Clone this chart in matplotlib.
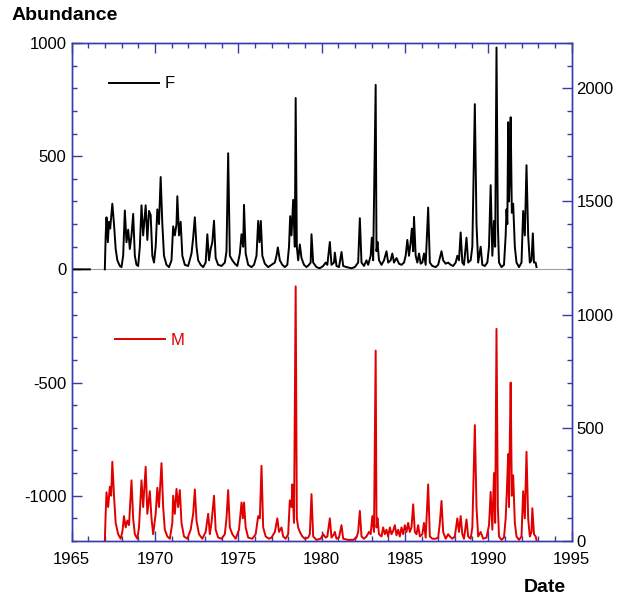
import numpy as np
import matplotlib
matplotlib.use("Agg")
import matplotlib.pyplot as plt
from matplotlib.ticker import MultipleLocator

plt.rcParams['font.family'] = ['Liberation Sans', 'DejaVu Sans']
plt.rcParams['axes.unicode_minus'] = False

# F abundance (left scale)
f_years = [1965.1, 1966.1, np.nan,
           1967.00, 1967.05, 1967.10, 1967.18, 1967.25, 1967.32, 1967.45, 1967.55, 1967.65, 1967.75, 1967.9,
           1968.0, 1968.1, 1968.2, 1968.3, 1968.4, 1968.5, 1968.6, 1968.7, 1968.8, 1968.9,
           1969.0, 1969.1, 1969.2, 1969.3, 1969.45, 1969.55, 1969.65, 1969.75, 1969.85, 1969.95,
           1970.05, 1970.15, 1970.25, 1970.35, 1970.45, 1970.55, 1970.7, 1970.85,
           1971.0, 1971.1, 1971.2, 1971.3, 1971.35, 1971.45, 1971.55, 1971.65, 1971.8,
           1972.0, 1972.2, 1972.3, 1972.4, 1972.5, 1972.6, 1972.75, 1972.9,
           1973.05, 1973.15, 1973.25, 1973.35, 1973.45, 1973.55, 1973.65, 1973.8,
           1974.0, 1974.2, 1974.3, 1974.4, 1974.5, 1974.65, 1974.8, 1974.95,
           1975.1, 1975.2, 1975.3, 1975.35, 1975.45, 1975.6, 1975.8, 1975.95,
           1976.1, 1976.2, 1976.28, 1976.36, 1976.45, 1976.6, 1976.8,
           1977.0, 1977.2, 1977.3, 1977.38, 1977.5, 1977.65, 1977.8, 1977.95,
           1978.05, 1978.12, 1978.2, 1978.3, 1978.4, 1978.45, 1978.52, 1978.6, 1978.7, 1978.8, 1978.95,
           1979.1, 1979.25, 1979.35, 1979.4, 1979.5, 1979.7, 1979.9,
           1980.1, 1980.25, 1980.35, 1980.5, 1980.6, 1980.75, 1980.8, 1980.9,
           1981.05, 1981.2, 1981.3, 1981.5, 1981.8,
           1982.0, 1982.2, 1982.3, 1982.4, 1982.55, 1982.7, 1982.8, 1982.95,
           1983.02, 1983.1, 1983.25, 1983.3, 1983.36, 1983.45, 1983.6, 1983.75, 1983.9,
           1984.0, 1984.15, 1984.25, 1984.35, 1984.5, 1984.65, 1984.8, 1984.95,
           1985.05, 1985.15, 1985.25, 1985.35, 1985.42, 1985.5, 1985.55, 1985.65, 1985.75, 1985.85, 1985.95,
           1986.05, 1986.15, 1986.25, 1986.4, 1986.5, 1986.65, 1986.85,
           1987.0, 1987.1, 1987.2, 1987.3, 1987.45, 1987.6, 1987.75, 1987.9,
           1988.05, 1988.15, 1988.25, 1988.35, 1988.45, 1988.55, 1988.7, 1988.8, 1988.95,
           1989.05, 1989.2, 1989.3, 1989.4, 1989.55, 1989.65, 1989.8, 1989.95,
           1990.05, 1990.15, 1990.25, 1990.35, 1990.42, 1990.5, 1990.58, 1990.65, 1990.8, 1990.95,
           1991.05, 1991.1, 1991.15, 1991.2, 1991.25, 1991.3, 1991.35, 1991.42, 1991.5, 1991.6, 1991.7, 1991.85,
           1992.0, 1992.1, 1992.2, 1992.3, 1992.4, 1992.5, 1992.6, 1992.68, 1992.75, 1992.85, 1992.9]
f_values = [0, 0, np.nan,
            0, 150, 230, 120, 210, 180, 290, 200, 90, 40, 15,
            10, 60, 260, 120, 175, 90, 150, 245, 60, 20,
            15, 100, 283, 150, 283, 130, 258, 240, 60, 30,
            100, 265, 200, 408, 200, 60, 20, 10,
            40, 190, 150, 200, 323, 150, 210, 60, 20,
            15, 70, 140, 230, 100, 40, 20, 10,
            30, 155, 40, 90, 120, 215, 50, 20,
            15, 30, 80, 513, 60, 40, 25, 15,
            70, 155, 100, 285, 70, 20, 10, 20,
            60, 214, 120, 214, 60, 25, 10,
            20, 30, 60, 97, 40, 20, 10, 20,
            100, 235, 150, 307, 100, 757, 100, 40, 110, 50, 20,
            10, 20, 30, 155, 30, 10, 5,
            15, 30, 20, 121, 20, 30, 74, 15,
            10, 77, 15, 10, 5,
            10, 30, 226, 30, 15, 40, 20, 60,
            140, 40, 815, 80, 121, 40, 20, 40, 80,
            30, 40, 70, 30, 50, 25, 20, 30,
            60, 130, 60, 120, 180, 80, 232, 60, 30, 70, 25,
            30, 70, 20, 273, 30, 15, 10,
            20, 50, 80, 40, 25, 30, 20, 15,
            30, 60, 40, 163, 30, 20, 140, 30, 40,
            100, 730, 200, 30, 100, 20, 15, 30,
            100, 372, 60, 214, 100, 980, 200, 30, 10, 20,
            150, 265, 200, 650, 300, 420, 672, 250, 290, 100, 30, 10,
            30, 258, 150, 460, 150, 30, 40, 159, 30, 30, 10]

# M abundance (right scale)
m_years = [1967.0, 1967.05, 1967.1, 1967.2, 1967.3, 1967.38, 1967.45, 1967.55, 1967.65, 1967.8, 1967.95,
           1968.05, 1968.15, 1968.25, 1968.35, 1968.45, 1968.6, 1968.7, 1968.8, 1968.95,
           1969.05, 1969.2, 1969.3, 1969.45, 1969.55, 1969.7, 1969.8, 1969.9,
           1970.05, 1970.15, 1970.25, 1970.4, 1970.5, 1970.6, 1970.75, 1970.9,
           1971.05, 1971.1, 1971.2, 1971.3, 1971.4, 1971.5, 1971.6, 1971.75, 1971.95,
           1972.15, 1972.3, 1972.4, 1972.5, 1972.65, 1972.85,
           1973.05, 1973.2, 1973.3, 1973.4, 1973.55, 1973.65, 1973.8,
           1974.0, 1974.2, 1974.3, 1974.4, 1974.5, 1974.65, 1974.85,
           1975.05, 1975.2, 1975.28, 1975.35, 1975.45, 1975.6, 1975.85,
           1976.05, 1976.2, 1976.3, 1976.4, 1976.5, 1976.65, 1976.85,
           1977.0, 1977.2, 1977.35, 1977.45, 1977.6, 1977.7, 1977.85,
           1978.0, 1978.1, 1978.2, 1978.25, 1978.35, 1978.45, 1978.52, 1978.6, 1978.7, 1978.85,
           1979.0, 1979.2, 1979.3, 1979.4, 1979.5, 1979.7, 1979.95,
           1980.1, 1980.25, 1980.35, 1980.5, 1980.6, 1980.75, 1980.8, 1980.9,
           1981.05, 1981.2, 1981.3, 1981.6, 1981.9,
           1982.1, 1982.2, 1982.3, 1982.4, 1982.55, 1982.7, 1982.85, 1982.95,
           1983.05, 1983.15, 1983.25, 1983.3, 1983.36, 1983.45, 1983.6, 1983.7, 1983.8, 1983.9,
           1984.0, 1984.1, 1984.2, 1984.3, 1984.4, 1984.5, 1984.6, 1984.7, 1984.8, 1984.9,
           1985.0, 1985.1, 1985.2, 1985.3, 1985.4, 1985.5, 1985.6, 1985.7, 1985.8, 1985.9,
           1986.05, 1986.15, 1986.25, 1986.4, 1986.5, 1986.65, 1986.85,
           1987.0, 1987.1, 1987.2, 1987.3, 1987.45, 1987.6, 1987.7, 1987.85,
           1988.0, 1988.15, 1988.25, 1988.35, 1988.45, 1988.55, 1988.7, 1988.8, 1988.95,
           1989.05, 1989.2, 1989.3, 1989.4, 1989.55, 1989.7, 1989.9,
           1990.05, 1990.15, 1990.25, 1990.35, 1990.42, 1990.5, 1990.58, 1990.65, 1990.8, 1990.95,
           1991.05, 1991.12, 1991.2, 1991.25, 1991.3, 1991.35, 1991.42, 1991.5, 1991.6, 1991.7, 1991.85,
           1992.0, 1992.1, 1992.2, 1992.3, 1992.4, 1992.5, 1992.6, 1992.65, 1992.75, 1992.85, 1992.9]
m_values = [0, 120, 215, 150, 240, 200, 350, 200, 80, 30, 10,
            40, 110, 60, 90, 70, 268, 100, 30, 10,
            60, 268, 150, 328, 120, 220, 100, 30,
            120, 235, 150, 344, 150, 50, 20, 10,
            80, 200, 120, 230, 150, 225, 80, 20, 10,
            50, 120, 228, 90, 30, 10,
            40, 120, 30, 80, 200, 50, 15,
            10, 30, 100, 225, 60, 30, 10,
            50, 170, 100, 170, 60, 15, 10,
            30, 110, 100, 332, 60, 20, 10,
            15, 40, 100, 40, 60, 20, 10,
            30, 180, 150, 250, 80, 1125, 100, 60, 40, 20,
            10, 15, 30, 207, 20, 5, 10,
            30, 15, 20, 100, 15, 30, 40, 10,
            15, 70, 10, 5, 5,
            15, 40, 133, 20, 10, 20, 40, 30,
            110, 40, 841, 60, 100, 30, 20, 60, 30, 50,
            20, 60, 30, 45, 70, 25, 50, 20, 60, 30,
            70, 40, 80, 40, 60, 162, 40, 30, 70, 20,
            30, 80, 15, 250, 20, 10, 10,
            15, 80, 177, 40, 10, 30, 20, 10,
            20, 100, 40, 110, 30, 10, 95, 20, 10,
            60, 512, 150, 20, 40, 10, 15,
            70, 217, 50, 300, 80, 937, 150, 20, 5, 15,
            100, 220, 384, 150, 450, 700, 200, 290, 80, 20, 5,
            20, 220, 100, 394, 100, 20, 40, 145, 30, 20, 5]

left_ticks = [-1000, -500, 0, 500, 1000]
right_ticks = [0, 500, 1000, 1500, 2000]
year_ticks = [1965, 1970, 1975, 1980, 1985, 1990, 1995]

axis_blue = '#3a3aa8'

fig = plt.figure(figsize=(6.19, 6.02), dpi=100)
ax = fig.add_axes([71.5 / 619, 1 - 541 / 602, 500 / 619, 498 / 602])
ax2 = ax.twinx()

ax.axhline(0, color='#a0a0a0', lw=0.8, zorder=1)
ax.plot(f_years, f_values, color='black', lw=1.4, label='F', zorder=3)
ax2.plot(m_years, m_values, color='#e00000', lw=1.4, label='M', zorder=3)

ax.set_xlim(1965, 1995)
ax.set_ylim(-1200, 1000)
ax2.set_ylim(0, 2200)

ax.set_xticks(year_ticks)
ax.set_yticks(left_ticks)
ax2.set_yticks(right_ticks)
ax.xaxis.set_minor_locator(MultipleLocator(1))
ax.yaxis.set_minor_locator(MultipleLocator(100))
ax2.yaxis.set_minor_locator(MultipleLocator(100))

for a in (ax, ax2):
    for sp in a.spines.values():
        sp.set_color(axis_blue)
        sp.set_linewidth(1.0)
ax.tick_params(which='both', direction='in', color=axis_blue, labelsize=12,
               top=True, bottom=True, left=True, right=False, width=1.0)
ax.tick_params(which='major', length=7)
ax.tick_params(which='minor', length=3.5)
ax2.tick_params(which='both', direction='in', color=axis_blue, labelsize=12, width=1.0)
ax2.tick_params(which='major', length=7)
ax2.tick_params(which='minor', length=3.5)
ax.tick_params(axis='x', pad=8)

leg1 = ax.legend(loc='upper left', bbox_to_anchor=(0.045, 0.963), frameon=False,
                 fontsize=12, handlelength=3.0, handletextpad=0.35)
leg2 = ax2.legend(loc='upper left', bbox_to_anchor=(0.056, 0.448), frameon=False,
                  fontsize=12, handlelength=3.0, handletextpad=0.35)
for t in leg2.get_texts():
    t.set_color('#e00000')

fig.text(12 / 619, 1 - 16 / 602, 'Abundance', fontsize=14, fontweight='bold', va='center', ha='left')
fig.text(545 / 619, 1 - 588 / 602, 'Date', fontsize=14, fontweight='bold', va='center', ha='center')

fig.savefig('out.png', dpi=100)
